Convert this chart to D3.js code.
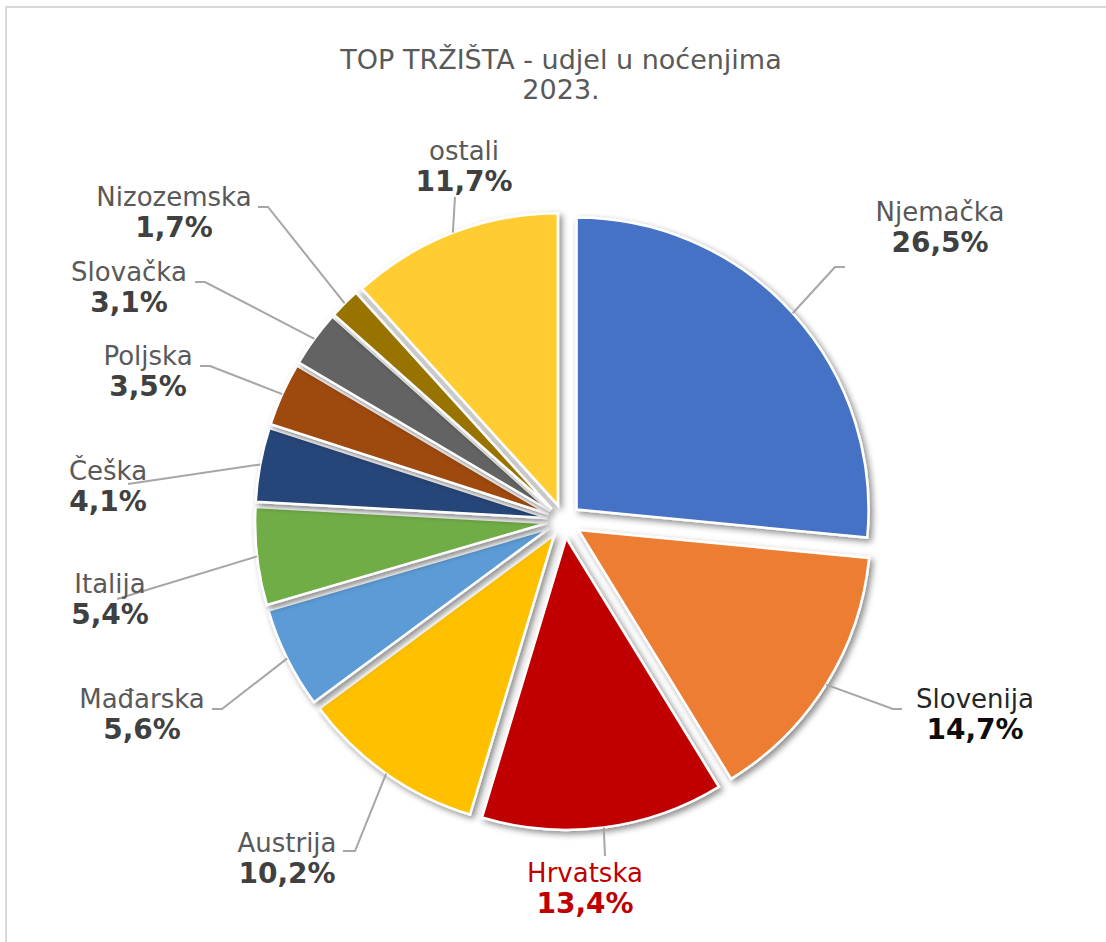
<!DOCTYPE html>
<html>
<head>
<meta charset="utf-8">
<script src="https://cdn.jsdelivr.net/npm/d3@7"></script>
<style>
  html, body { margin: 0; padding: 0; background: #fff; }
  svg { display: block; }
  text { font-family: "DejaVu Sans", Verdana, sans-serif; }
</style>
</head>
<body>
<svg id="chart" width="1106" height="942"></svg>
<script>
// ---- data ----
const titleLines = ["TOP TRŽIŠTA - udjel u noćenjima", "2023."];
const categories = ["Njemačka", "Slovenija", "Hrvatska", "Austrija", "Mađarska", "Italija", "Češka", "Poljska", "Slovačka", "Nizozemska", "ostali"];
const values = [26.5, 14.7, 13.4, 10.2, 5.6, 5.4, 4.1, 3.5, 3.1, 1.7, 11.7];

// ---- styles ----
const colors = ["#4472C4", "#ED7D31", "#C00000", "#FFC000", "#5B9BD5", "#70AD47", "#264478", "#9E480E", "#636363", "#997300", "#FFCC33"];
const nameColors = ["#595959", "#262626", "#C00000", "#595959", "#595959", "#595959", "#595959", "#595959", "#595959", "#595959", "#595959"];
const valueColors = ["#404040", "#0d0d0d", "#C00000", "#404040", "#404040", "#404040", "#404040", "#404040", "#404040", "#404040", "#404040"];

// ---- layout (label anchors: name centre x, name baseline y; leader start points) ----
const labelLayout = [
  { x: 940, y: 221, leader: [[845, 267], [835, 267]] },
  { x: 975, y: 708, leader: [[902, 709], [893, 709]] },
  { x: 585, y: 882, leader: [[605, 856]] },
  { x: 287, y: 852, leader: [[343, 851], [355, 851]] },
  { x: 142, y: 708, leader: [[212, 709], [222, 709]] },
  { x: 110, y: 593, leader: [[117, 599]] },
  { x: 108, y: 480, leader: [[128, 484]] },
  { x: 148, y: 365, leader: [[200, 366], [210, 366]] },
  { x: 129, y: 281, leader: [[195, 282], [205, 282]] },
  { x: 174, y: 206, leader: [[258, 207], [268, 207]] },
  { x: 464, y: 160, leader: [[455, 197]] }
];

const W = 1106, H = 942;
const cx = 564, cy = 521, R = 292, explode = 17;

const svg = d3.select("#chart");

// border
svg.append("rect")
  .attr("x", 6).attr("y", 7).attr("width", 1200).attr("height", 1000)
  .attr("fill", "#fff").attr("stroke", "#d9d9d9").attr("stroke-width", 2);

// title
svg.append("text")
  .attr("x", 561).attr("y", 69)
  .attr("text-anchor", "middle")
  .attr("font-size", 27).attr("fill", "#595959")
  .selectAll("tspan").data(titleLines).join("tspan")
  .attr("x", 561).attr("dy", (d, i) => i === 0 ? 0 : 30)
  .text(d => d);

// shadow filter
const defs = svg.append("defs");
const f = defs.append("filter").attr("id", "shadow")
  .attr("x", "-20%").attr("y", "-20%").attr("width", "140%").attr("height", "140%");
f.append("feDropShadow")
  .attr("dx", 3).attr("dy", 3).attr("stdDeviation", 3)
  .attr("flood-color", "#000").attr("flood-opacity", 0.45);

const pie = d3.pie().sort(null).value(d => d);
const arcs = pie(values);
const arc = d3.arc().innerRadius(0).outerRadius(R);
const edgeArc = d3.arc().innerRadius(R).outerRadius(R);

const midAngle = d => (d.startAngle + d.endAngle) / 2;
const offset = (d, e) => [Math.sin(midAngle(d)) * e, -Math.cos(midAngle(d)) * e];

const g = svg.append("g").attr("transform", `translate(${cx},${cy})`);

g.selectAll("path.slice").data(arcs).join("path")
  .attr("class", "slice")
  .attr("d", arc)
  .attr("transform", d => { const o = offset(d, explode); return `translate(${o[0]},${o[1]})`; })
  .attr("fill", (d, i) => colors[i])
  .attr("stroke", "#fff")
  .attr("stroke-width", 2.5)
  .attr("stroke-linejoin", "miter")
  .attr("filter", "url(#shadow)");

// leader lines
const line = d3.line();
svg.append("g").selectAll("path.leader").data(arcs).join("path")
  .attr("class", "leader")
  .attr("d", (d, i) => {
    const o = offset(d, explode);
    const e = edgeArc.centroid(d);
    const end = [cx + o[0] + e[0], cy + o[1] + e[1]];
    return line(labelLayout[i].leader.concat([end]));
  })
  .attr("fill", "none")
  .attr("stroke", "#a6a6a6")
  .attr("stroke-width", 2);

// labels
const fmt = v => d3.format(".1f")(v).replace(".", ",") + "%";
const labels = svg.append("g").selectAll("g.label").data(arcs).join("g").attr("class", "label");
labels.append("text")
  .attr("x", (d, i) => labelLayout[i].x)
  .attr("y", (d, i) => labelLayout[i].y)
  .attr("text-anchor", "middle")
  .attr("font-size", 26)
  .attr("fill", (d, i) => nameColors[i])
  .text((d, i) => categories[i]);
labels.append("text")
  .attr("x", (d, i) => labelLayout[i].x)
  .attr("y", (d, i) => labelLayout[i].y + 31)
  .attr("text-anchor", "middle")
  .attr("font-size", 28)
  .attr("font-weight", "bold")
  .attr("fill", (d, i) => valueColors[i])
  .text(d => fmt(d.data));
</script>
</body>
</html>
